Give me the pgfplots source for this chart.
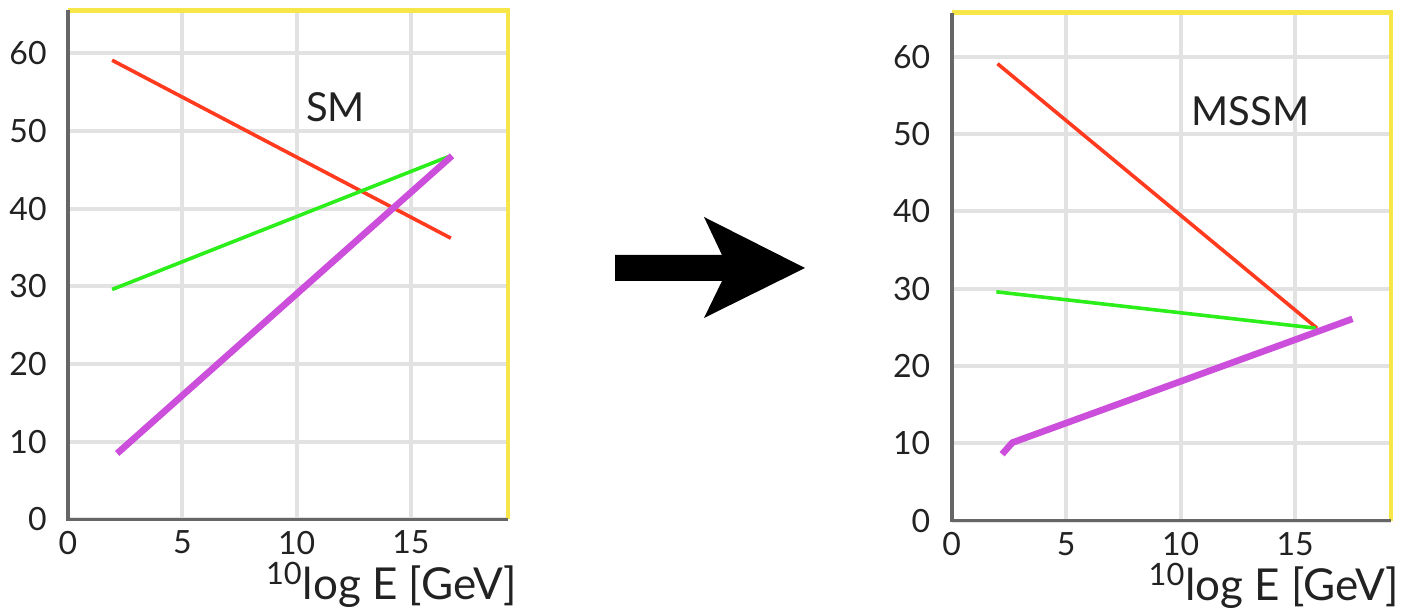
\documentclass[border=0pt]{standalone}
\usepackage{pgfplots}
\pgfplotsset{compat=1.18}
\usepackage{fontspec}
\setmainfont{Lato}
\definecolor{redl}{HTML}{FF3A1E}
\definecolor{greenl}{HTML}{2BEE1B}
\definecolor{purpl}{HTML}{CC4FDB}
\definecolor{gridc}{HTML}{E2E2E2}
\definecolor{axc}{HTML}{666666}
\definecolor{yel}{HTML}{F7E64A}
\definecolor{txt}{HTML}{222222}
\pgfplotsset{
  myaxis/.style={
    scale only axis,
    anchor=south west,
    xmin=0, ymin=0,
    xtick={0,5,10,15}, ytick={0,10,20,30,40,50,60},
    grid=major,
    major grid style={line width=2pt, color=gridc},
    major tick length=0pt,
    axis line style={draw=none},
    /pgf/number format/assume math mode=true,
    tick label style={font=\fontsize{16}{18}\selectfont, text=txt, inner sep=0pt},
    yticklabel style={xshift=-10.5pt},
    xticklabel style={yshift=-5.5pt},
    xlabel={\textsuperscript{10}log E [GeV]},
    xlabel style={at={(rel axis cs:1,0)}, anchor=base east, inner sep=0pt,
      xshift=4.5pt, yshift=-40pt, font=\fontsize{22}{25}\selectfont, text=txt},
    clip=false,
  },
  redline/.style={color=redl, line width=1.8pt, no marks},
  greenline/.style={color=greenl, line width=1.8pt, no marks},
  purpline/.style={color=purpl, line width=3.3pt, no marks},
}
\begin{document}
\begin{tikzpicture}
\useasboundingbox (0,0) rectangle (702pt,304.5pt);
% left axis (SM)
\begin{axis}[myaxis, at={(34pt,44.75pt)}, width=220pt, height=254.5pt,
  xmax=19.25, ymax=65.5]
\addplot[redline] coordinates {(1.93,59.1) (16.75,36.2)};
\addplot[greenline] coordinates {(1.93,29.6) (16.65,46.7)};
\addplot[purpline] coordinates {(2.15,8.5) (16.8,46.8)};
\draw[yel, line width=2.2pt] (rel axis cs:0,1) -- (rel axis cs:1,1) -- (rel axis cs:1,0);
\draw[axc, line width=1.8pt] (rel axis cs:0,1) -- (rel axis cs:0,0) -- (rel axis cs:1,0);
\node[font=\fontsize{20}{24}\selectfont, text=txt] at (axis cs:11.7,53.1) {SM};
\end{axis}
% right axis (MSSM)
\begin{axis}[myaxis, at={(475.85pt,44.15pt)}, width=219.5pt, height=254pt,
  xmax=19.17, ymax=65.7]
\addplot[redline] coordinates {(2.0,59.1) (15.95,24.9)};
\addplot[greenline] coordinates {(1.95,29.6) (15.9,24.9)};
\addplot[purpline] coordinates {(2.2,8.6) (2.65,10.1) (17.5,26.1)};
\draw[yel, line width=2.2pt] (rel axis cs:0,1) -- (rel axis cs:1,1) -- (rel axis cs:1,0);
\draw[axc, line width=1.8pt] (rel axis cs:0,1) -- (rel axis cs:0,0) -- (rel axis cs:1,0);
\node[font=\fontsize{20}{24}\selectfont, text=txt] at (axis cs:13.05,53.0) {MSSM};
\end{axis}
% arrow (pixel coordinates: x*0.5pt, (609-y)*0.5pt)
\fill[black] (307.5pt,177pt) -- (361pt,177pt) -- (352pt,196pt) -- (402.5pt,170.5pt)
  -- (352pt,145.5pt) -- (361pt,164pt) -- (307.5pt,164pt) -- cycle;
\end{tikzpicture}
\end{document}
